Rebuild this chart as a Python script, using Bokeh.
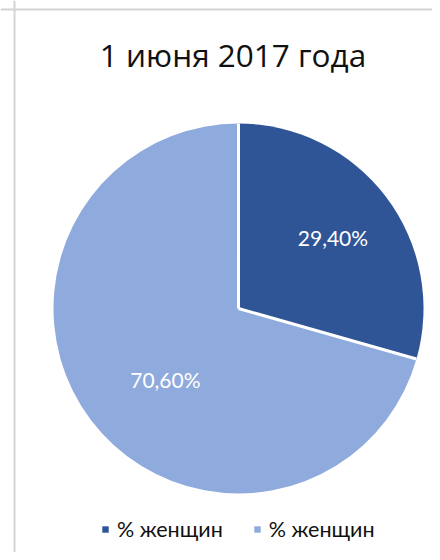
import math
from bokeh.plotting import figure
from bokeh.models import ColumnDataSource, Range1d, Span, Label, Legend, LegendItem
from bokeh.core.properties import value
from bokeh.embed import file_html
from bokeh.resources import INLINE

# ---- data ----
title_text = "1 июня 2017 года"
categories = ["% женщин", "% женщин"]
values = [29.40, 70.60]
colors = ["#2F5597", "#8FAADC"]

# ---- layout constants ----
W, H = 432, 552
CX, CY = 238, 308          # pie centre in canvas pixels
R = 185
FONT = "Lato"
TITLE_FONT = "Open Sans"

total = sum(values)
starts, ends, mids = [], [], []
a = math.pi / 2
for v in values:
    sweep = v / total * 2 * math.pi
    starts.append(a)
    ends.append(a - sweep)
    mids.append(a - sweep / 2)
    a -= sweep

label_r_frac = [0.64, 0.55]
label_shift_deg = [0.0, 7.0]
lx = [R * f * math.cos(m + math.radians(s)) for f, m, s in zip(label_r_frac, mids, label_shift_deg)]
ly = [R * f * math.sin(m + math.radians(s)) for f, m, s in zip(label_r_frac, mids, label_shift_deg)]
labels = [f"{v:.2f}".replace(".", ",") + "%" for v in values]

src = ColumnDataSource(dict(cat=categories, val=values, start=starts, end=ends,
                            color=colors, lx=lx, ly=ly, lab=labels))

p = figure(width=W, height=H, output_backend="svg", toolbar_location=None,
           x_range=Range1d(-CX, W - CX), y_range=Range1d(CY - H, CY),
           min_border=0)
p.axis.visible = False
p.grid.visible = False
p.outline_line_color = None
p.background_fill_color = "white"
p.border_fill_color = "white"

wr = p.wedge(x=0, y=0, radius=R, start_angle="start", end_angle="end",
             direction="clock", fill_color="color", line_color=None, source=src)
p.ray(x=0, y=0, length=R, angle=starts, angle_units="rad",
      line_color="white", line_width=3)

p.text(x="lx", y="ly", text="lab", source=src, text_color="white",
       text_font=value(FONT), text_font_size="21px",
       text_align="center", text_baseline="middle")

p.add_layout(Label(x=-5.5, y=254, text=title_text, text_font=TITLE_FONT,
                   text_font_size="31.5px", text_color="#111111",
                   text_align="center", text_baseline="alphabetic"))

# chart border (light gray)
p.add_layout(Span(location=-224, dimension="height", line_color="#d4d4d4", line_width=2))
p.add_layout(Span(location=299, dimension="width", line_color="#d4d4d4", line_width=2))

legend = Legend(items=[LegendItem(label=categories[i], renderers=[wr], index=i)
                       for i in range(len(values))],
                orientation="horizontal", location=(101, 10),
                glyph_width=8, glyph_height=8, label_standoff=8, spacing=30,
                padding=0, margin=0, border_line_color=None,
                background_fill_alpha=0,
                label_text_font=FONT, label_text_font_size="21.5px",
                label_text_color="#111111")
p.add_layout(legend)

open("out.html", "w").write(file_html(p, INLINE))
